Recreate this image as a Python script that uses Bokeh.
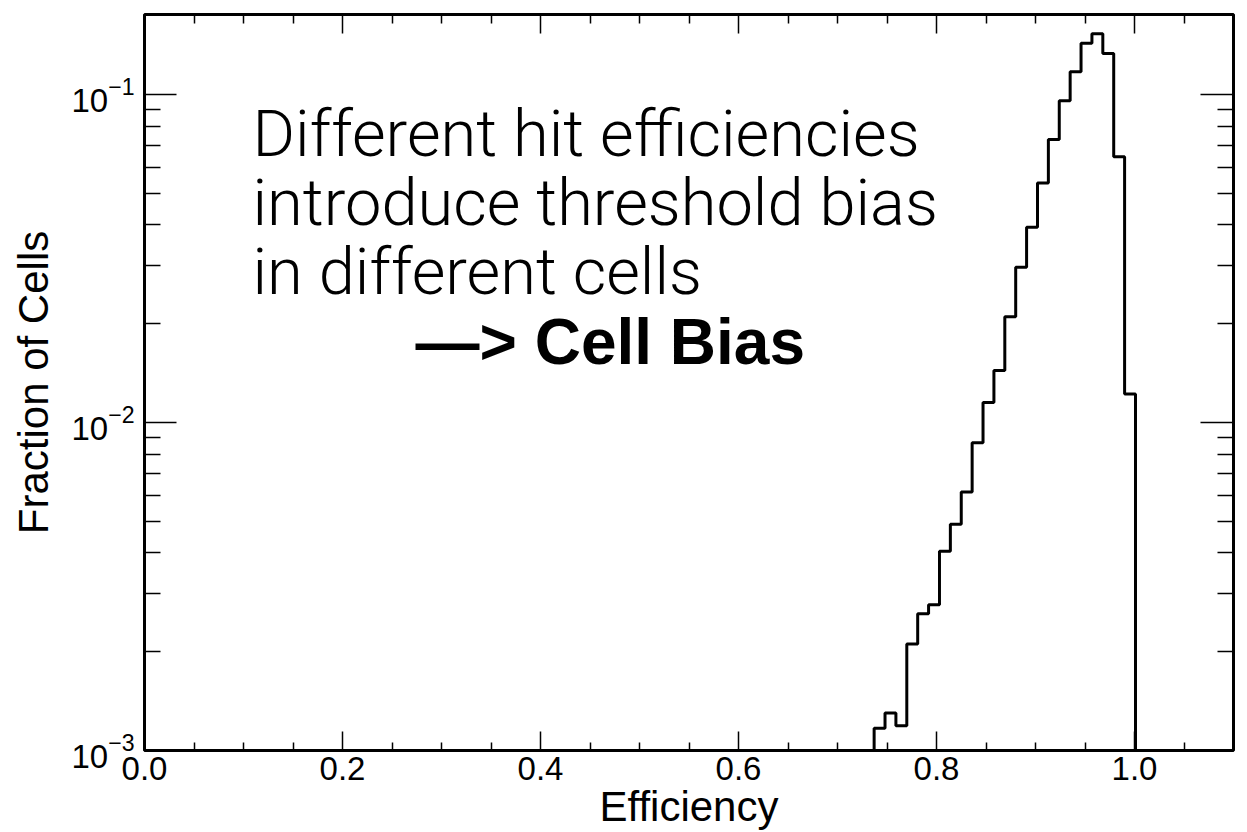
import numpy as np
from bokeh.plotting import figure
from bokeh.models import FixedTicker, PrintfTickFormatter, LinearAxis, LogAxis, Label, CustomJSTickFormatter
from bokeh.embed import file_html
from bokeh.resources import INLINE

# ---------------- data ----------------
bin_width = 0.011
n_bins = 100
zero_bins_low = 67
cell_fractions_nonzero = [
    1.17e-3, 1.30e-3, 1.19e-3, 2.11e-3, 2.61e-3, 2.78e-3, 4.05e-3, 4.89e-3,
    6.14e-3, 8.67e-3, 1.15e-2, 1.44e-2, 2.10e-2, 2.97e-2, 3.93e-2, 5.36e-2,
    7.28e-2, 9.55e-2, 0.117, 0.143, 0.153, 0.133, 0.0645, 0.0122,
]
cell_fractions = [0.0] * zero_bins_low + cell_fractions_nonzero
cell_fractions = cell_fractions + [0.0] * (n_bins - len(cell_fractions))

x_major_ticks = [0.0, 0.2, 0.4, 0.6, 0.8, 1.0]
x_minor_ticks = [0.05, 0.1, 0.15, 0.25, 0.3, 0.35, 0.45, 0.5, 0.55, 0.65, 0.7,
                 0.75, 0.85, 0.9, 0.95, 1.05]
y_major_ticks = [1e-3, 1e-2, 1e-1]
y_minor_ticks = [2e-3, 3e-3, 4e-3, 5e-3, 6e-3, 7e-3, 8e-3, 9e-3,
                 2e-2, 3e-2, 4e-2, 5e-2, 6e-2, 7e-2, 8e-2, 9e-2]

x_title = "Efficiency"
y_title = "Fraction of Cells"
note_lines = ["Different hit efficiencies", "introduce threshold bias", "in different cells"]
note_bold = "\u2014> Cell Bias"

X_MIN, X_MAX = 0.0, 1.1
Y_MIN, Y_MAX = 1e-3, 0.175

# ---------------- geometry helpers ----------------
FRAME_L, FRAME_T, FRAME_R, FRAME_B = 144, 14, 1233, 752
W, H = 1247, 832


def px_to_data(xp, yp):
    fx = (xp - FRAME_L) / (FRAME_R - FRAME_L)
    fy = (FRAME_B - yp) / (FRAME_B - FRAME_T)
    x = X_MIN + fx * (X_MAX - X_MIN)
    ly = np.log10(Y_MIN) + fy * (np.log10(Y_MAX) - np.log10(Y_MIN))
    return x, 10 ** ly


p = figure(width=W, height=H, x_range=(X_MIN, X_MAX), y_range=(Y_MIN, Y_MAX),
           y_axis_type="log", output_backend="svg", toolbar_location=None,
           min_border_left=FRAME_L, min_border_right=W - FRAME_R,
           min_border_top=FRAME_T, min_border_bottom=H - FRAME_B)
p.background_fill_color = "white"
p.border_fill_color = "white"
p.grid.visible = False
p.outline_line_color = "black"
p.outline_line_width = 3

LABEL_FONT = "Liberation Sans"

# bottom axis
xa = p.xaxis[0]
xa.ticker = FixedTicker(ticks=x_major_ticks, minor_ticks=x_minor_ticks)
xa.formatter = PrintfTickFormatter(format="%.1f")
xa.major_tick_in = 19
xa.major_tick_out = 0
xa.minor_tick_in = 8
xa.minor_tick_out = 0
xa.major_tick_line_width = 1.5
xa.minor_tick_line_width = 1.5
xa.axis_line_color = None
xa.major_label_text_font = LABEL_FONT
xa.major_label_text_font_size = "33px"
xa.major_label_text_color = "black"
xa.major_label_standoff = 6
xa.axis_label = x_title
xa.axis_label_text_font = LABEL_FONT
xa.axis_label_text_font_size = "42px"
xa.axis_label_text_font_style = "normal"
xa.axis_label_text_color = "black"
xa.axis_label_standoff = 0

# left axis
ya = p.yaxis[0]
ya.ticker = FixedTicker(ticks=y_major_ticks, minor_ticks=y_minor_ticks)
ya.major_tick_in = 32
ya.major_tick_out = 0
ya.minor_tick_in = 16
ya.minor_tick_out = 0
ya.major_tick_line_width = 1.5
ya.minor_tick_line_width = 1.5
ya.axis_line_color = None
ya.major_label_text_font = LABEL_FONT
ya.major_label_text_font_size = "33px"
ya.major_label_text_color = "black"
ya.major_label_standoff = 10
ya.axis_label = y_title
ya.axis_label_text_font = LABEL_FONT
ya.axis_label_text_font_size = "42px"
ya.axis_label_text_font_style = "normal"
ya.axis_label_text_color = "black"
ya.axis_label_standoff = 11

blank = "return ''"
top = LinearAxis(ticker=FixedTicker(ticks=x_major_ticks, minor_ticks=x_minor_ticks),
                 formatter=CustomJSTickFormatter(code=blank),
                 major_tick_in=19, major_tick_out=0, minor_tick_in=9, minor_tick_out=0,
                 major_tick_line_width=1.5, minor_tick_line_width=1.5,
                 axis_line_color=None, major_label_standoff=0)
p.add_layout(top, "above")
right = LogAxis(ticker=FixedTicker(ticks=y_major_ticks, minor_ticks=y_minor_ticks),
                formatter=CustomJSTickFormatter(code=blank),
                major_tick_in=33, major_tick_out=0, minor_tick_in=16, minor_tick_out=0,
                major_tick_line_width=1.5, minor_tick_line_width=1.5,
                axis_line_color=None, major_label_standoff=0)
p.add_layout(right, "right")

# histogram outline
edges = X_MIN + bin_width * np.arange(n_bins + 1)
vals = np.maximum(np.array(cell_fractions), Y_MIN)
p.step(x=edges, y=np.append(vals, vals[-1]), mode="after", line_color="black", line_width=3)

# annotation text
note_x_px = 252
note_baselines_px = [134, 203, 272]
for txt, yb in zip(note_lines, note_baselines_px):
    x, y = px_to_data(note_x_px, yb)
    p.add_layout(Label(x=x, y=y, text=txt, text_font="Roboto Light", text_font_size="65px",
                       text_baseline="alphabetic", text_align="left", text_color="black"))
bx, by = px_to_data(415, 342)
p.add_layout(Label(x=bx, y=by, text=note_bold, text_font=LABEL_FONT, text_font_size="64px",
                   text_font_style="bold", text_baseline="alphabetic", text_align="left",
                   text_color="black"))

open("out.html", "w").write(file_html(p, INLINE))
